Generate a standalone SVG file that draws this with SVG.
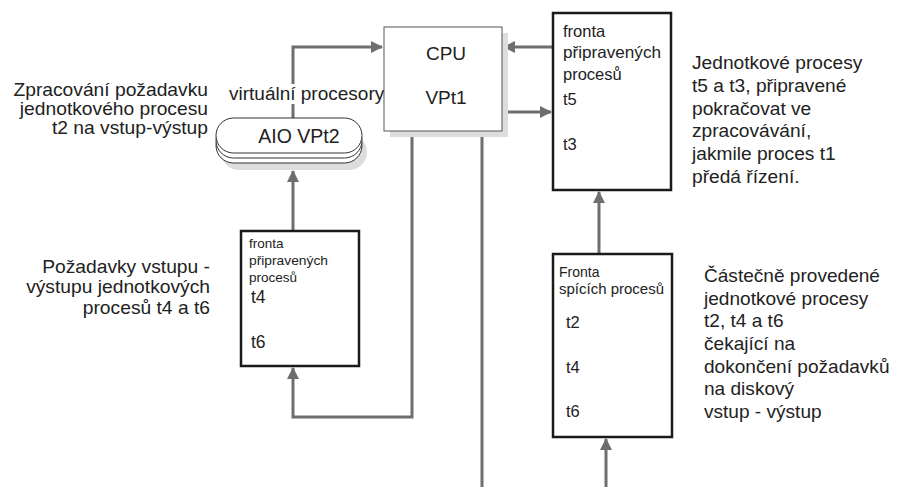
<svg xmlns="http://www.w3.org/2000/svg" width="899" height="487" viewBox="0 0 899 487">
<defs>
<marker id="ah" markerUnits="userSpaceOnUse" markerWidth="12" markerHeight="12" refX="11" refY="6" orient="auto">
<path d="M0,0 L12,6 L0,12 Z" fill="#6e6e6e"/>
</marker>
<style>
text{font-family:"Liberation Sans",Arial,sans-serif;fill:#222}
.c{fill:none;stroke:#6e6e6e;stroke-width:3}
.q{fill:#fff;stroke:#1a1a1a;stroke-width:2.5}
.d{font-size:17.5px}
.s{font-size:13.5px}
.m{font-size:16.5px}
.pill{fill:#fff;stroke:#333;stroke-width:1}
</style>
</defs>
<rect width="899" height="487" fill="#fff"/>

<g id="connectors">
<path class="c" d="M293,118 V47 H382" marker-end="url(#ah)"/>
<path class="c" d="M553,47 H504" marker-end="url(#ah)"/>
<path class="c" d="M502,112 H551" marker-end="url(#ah)"/>
<path class="c" d="M412,131 V417 H293 V368" marker-end="url(#ah)"/>
<path class="c" d="M482,131 V487"/>
<path class="c" d="M293,231 V171" marker-end="url(#ah)"/>
<path class="c" d="M599,254 V192" marker-end="url(#ah)"/>
<path class="c" d="M606,487 V439" marker-end="url(#ah)"/>
</g>

<g id="label-virtual">
<rect x="228" y="84" width="157" height="20" fill="#fff"/>
<text x="229" y="100" font-size="19">virtuální procesory</text>
</g>

<g id="cpu">
<rect x="390" y="33" width="118" height="104" fill="#ddd"/>
<rect x="384" y="27" width="118" height="104" fill="#fff" stroke="#555" stroke-width="1"/>
<text x="446" y="60" font-size="19" text-anchor="middle">CPU</text>
<text x="446" y="104" font-size="19" text-anchor="middle">VPt1</text>
</g>

<g id="aio">
<rect x="221" y="134" width="146" height="36" rx="18" fill="#ddd"/>
<rect class="pill" x="216" y="128" width="146" height="35" rx="17.5"/>
<rect class="pill" x="216" y="123" width="146" height="35" rx="17.5"/>
<rect class="pill" x="216" y="118" width="146" height="35" rx="17.5"/>
<text x="299" y="143" font-size="19.5" text-anchor="middle">AIO VPt2</text>
</g>

<g id="ready-queue-top">
<rect class="q" x="553" y="13" width="118" height="177"/>
<text class="m" x="563" y="37">fronta</text>
<text class="m" x="563" y="58" textLength="98" lengthAdjust="spacingAndGlyphs">připravených</text>
<text class="m" x="563" y="80">procesů</text>
<text class="m" x="563" y="105">t5</text>
<text class="m" x="563" y="150">t3</text>
</g>

<g id="ready-queue-io">
<rect class="q" x="241" y="231" width="118" height="135"/>
<text class="s" x="249" y="248">fronta</text>
<text class="s" x="249" y="265" textLength="79" lengthAdjust="spacingAndGlyphs">připravených</text>
<text class="s" x="249" y="282">procesů</text>
<text x="251" y="303" font-size="17.5">t4</text>
<text x="251" y="348" font-size="17.5">t6</text>
</g>

<g id="sleep-queue">
<rect class="q" x="553" y="254" width="119" height="183"/>
<text x="559" y="277" font-size="14">Fronta</text>
<text x="559" y="294" font-size="14" textLength="105" lengthAdjust="spacingAndGlyphs">spících procesů</text>
<text class="m" x="566" y="328">t2</text>
<text class="m" x="566" y="373">t4</text>
<text class="m" x="566" y="417">t6</text>
</g>

<g id="note-aio" transform="translate(208,0) scale(1.1,1) translate(-208,0)">
<text class="d" x="208" y="96" text-anchor="end">Zpracování požadavku</text>
<text class="d" x="208" y="115" text-anchor="end">jednotkového procesu</text>
<text class="d" x="208" y="134" text-anchor="end">t2 na vstup-výstup</text>
</g>

<g id="note-io" transform="translate(210,0) scale(1.1,1) translate(-210,0)">
<text class="d" x="210" y="273" text-anchor="end">Požadavky vstupu -</text>
<text class="d" x="210" y="293" text-anchor="end">výstupu jednotkových</text>
<text class="d" x="210" y="314" text-anchor="end">procesů t4 a t6</text>
</g>

<g id="note-ready" transform="translate(692,0) scale(1.095,1) translate(-692,0)">
<text class="d" x="692" y="69">Jednotkové procesy</text>
<text class="d" x="692" y="92">t5 a t3, připravené</text>
<text class="d" x="692" y="115">pokračovat ve</text>
<text class="d" x="692" y="137">zpracovávání,</text>
<text class="d" x="692" y="160">jakmile proces t1</text>
<text class="d" x="692" y="183">předá řízení.</text>
</g>

<g id="note-sleep" transform="translate(704,0) scale(1.09,1) translate(-704,0)">
<text class="d" x="704" y="282">Částečně provedené</text>
<text class="d" x="704" y="305">jednotkové procesy</text>
<text class="d" x="704" y="327">t2, t4 a t6</text>
<text class="d" x="704" y="350">čekající na</text>
<text class="d" x="704" y="373">dokončení požadavků</text>
<text class="d" x="704" y="395">na diskový</text>
<text class="d" x="704" y="418">vstup - výstup</text>
</g>
</svg>
